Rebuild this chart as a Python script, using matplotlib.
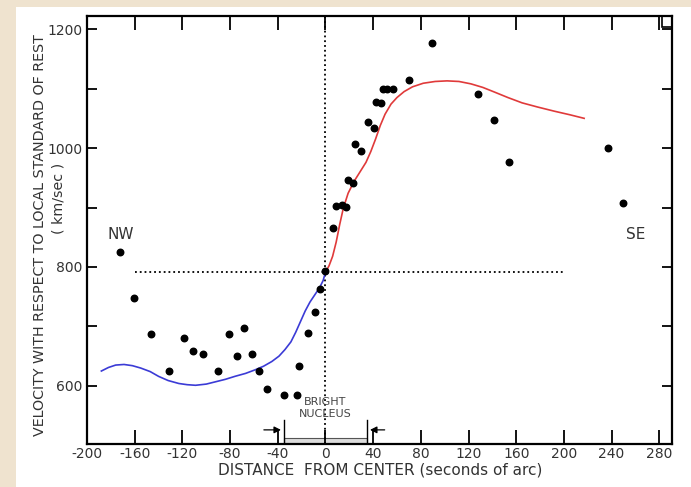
import matplotlib.pyplot as plt
from matplotlib.patches import Rectangle

# observed velocities (black dots)
dist = [-172, -161, -146, -131, -119, -111, -103, -90, -81, -74, -68, -62, -56,
        -49, -35, -24, -22, -15, -9, -5, 0,
        6, 9, 14, 17, 19, 23, 25, 30, 36, 41, 42, 47, 48, 52, 57, 70, 89,
        128, 141, 154, 237, 250]
vel = [825, 747, 688, 625, 680, 658, 653, 625, 687, 651, 697, 653, 625,
       594, 584, 584, 634, 689, 724, 763, 793,
       865, 903, 905, 901, 947, 942, 1006, 995, 1043, 1034, 1078, 1075, 1100, 1100, 1100, 1115, 1177,
       1091, 1048, 977, 1000, 908]

# model curve, NW side (blue)
nw_x = [-188, -182, -176, -169, -162, -155, -147, -140, -132, -123, -116, -109, -100, -92,
        -84, -76, -67, -59, -52, -45, -39, -34, -29, -25, -21, -17, -13, -9, -5, -2, 0]
nw_y = [625, 631, 635, 636, 634, 630, 624, 616, 609, 604, 602, 601, 603, 607,
        611, 616, 621, 627, 633, 641, 650, 661, 674, 690, 708, 726, 741, 753, 765, 777, 791]

# model curve, SE side (red)
se_x = [0, 3, 6, 9, 12, 15, 19, 24, 29, 34, 38, 42, 46, 50, 55, 60, 66, 73, 82, 92, 102,
        112, 122, 132, 142, 153, 165, 178, 192, 205, 217]
se_y = [791, 802, 818, 842, 872, 899, 924, 944, 960, 976, 994, 1015, 1038, 1057, 1074, 1085,
        1095, 1103, 1109, 1112, 1113, 1112, 1108, 1102, 1094, 1085, 1076, 1069, 1062, 1056, 1050]

xticks = [-200, -160, -120, -80, -40, 0, 40, 80, 120, 160, 200, 240, 280]
yticks = [600, 800, 1000, 1200]

fig = plt.figure(figsize=(6.91, 4.87), dpi=100)
fig.patch.set_facecolor('#efe3cf')
fig.patches.append(Rectangle((16 / 691, 0), 1, 1 - 7 / 487, transform=fig.transFigure,
                             facecolor='white', edgecolor='none', zorder=-10))

ax = fig.add_axes([0.126, 0.088, 0.847, 0.879])
ax.set_xlim(-200, 291)
ax.set_ylim(502, 1222)

# reference lines
ax.axvline(0, color='black', linestyle=':', linewidth=1.3)
ax.plot([-160, 200], [791, 791], color='black', linestyle=':', linewidth=1.3)

ax.plot(nw_x, nw_y, color='#3b3bd6', linewidth=1.2)
ax.plot(se_x, se_y, color='#e03a3a', linewidth=1.2)
ax.scatter(dist, vel, s=22, color='black', zorder=3)

ax.text(-172, 855, 'NW', fontsize=11, ha='center', va='center', color='#333333')
ax.text(260, 855, 'SE', fontsize=11, ha='center', va='center', color='#333333')

# bright nucleus marker
ax.text(0, 573, 'BRIGHT', fontsize=8, ha='center', va='center', color='#444444')
ax.text(0, 552, 'NUCLEUS', fontsize=8, ha='center', va='center', color='#444444')
ax.plot([-35, -35], [502, 543], color='black', linewidth=1)
ax.plot([35, 35], [502, 543], color='black', linewidth=1)
ax.add_patch(Rectangle((-35, 503), 70, 10, facecolor='#dddddd', edgecolor='#555555', linewidth=0.8))
ax.annotate('', xy=(-35, 526), xytext=(-54, 526),
            arrowprops=dict(arrowstyle='-|>', color='black', lw=0.9))
ax.annotate('', xy=(35, 526), xytext=(52, 526),
            arrowprops=dict(arrowstyle='-|>', color='black', lw=0.9))

ax.set_xticks(xticks)
ax.set_xticklabels([str(t) for t in xticks])
ax.set_yticks(yticks)
ax.set_yticks([700, 900, 1100], minor=True)
ax.tick_params(axis='x', direction='in', length=10, width=1.3, top=True, labelsize=10, pad=2,
               labelcolor='#333333')
ax.tick_params(axis='y', which='both', direction='in', length=7, width=1.3, right=True,
               labelsize=10, labelcolor='#333333')
for sp in ax.spines.values():
    sp.set_linewidth(1.6)

ax.set_xlabel('DISTANCE  FROM CENTER (seconds of arc)', fontsize=11, color='#333333', labelpad=1)

# y label placed by hand: the second line sits between the tick labels
fig.text(40 / 691, 1 - 235 / 487, 'VELOCITY WITH RESPECT TO LOCAL STANDARD OF REST',
         rotation=90, fontsize=10.3, color='#333333', ha='center', va='center')
fig.text(59 / 691, 1 - 198 / 487, '( km/sec )', rotation=90, fontsize=10.3,
         color='#333333', ha='center', va='center')

# little square in the top-right corner
ax.add_patch(Rectangle((282, 1203), 9, 19, facecolor='none', edgecolor='black', linewidth=1.2))

fig.savefig('out.png', dpi=100)
